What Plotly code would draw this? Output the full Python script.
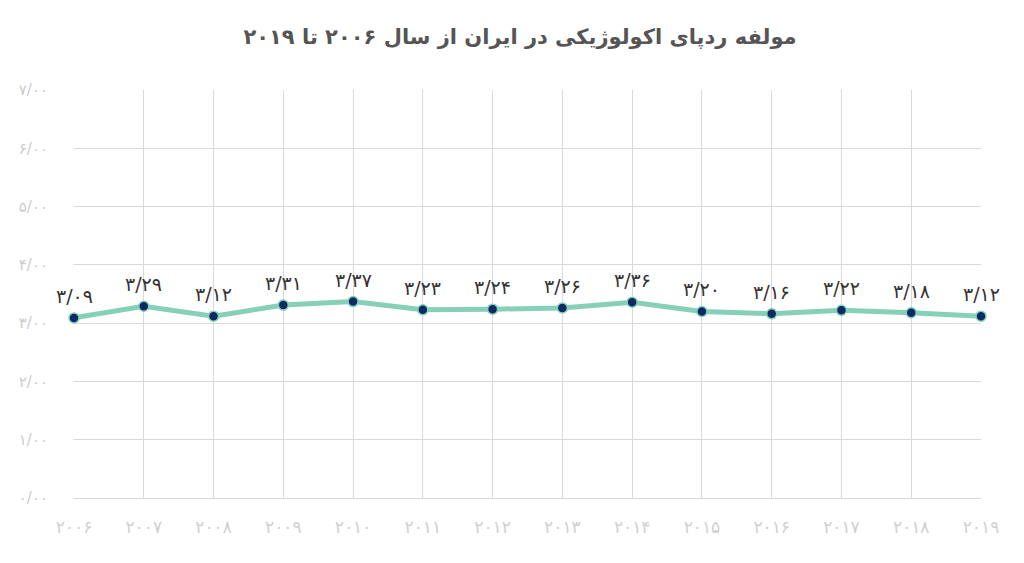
import plotly.graph_objects as go

FA_DIGITS = str.maketrans("0123456789.", "۰۱۲۳۴۵۶۷۸۹/")

years = ["2006", "2007", "2008", "2009", "2010", "2011", "2012",
         "2013", "2014", "2015", "2016", "2017", "2018", "2019"]
values = [3.09, 3.29, 3.12, 3.31, 3.37, 3.23, 3.24,
          3.26, 3.36, 3.20, 3.16, 3.22, 3.18, 3.12]
y_ticks = [0, 1, 2, 3, 4, 5, 6, 7]

title = "مولفه ردپای اکولوژیکی در ایران از سال ۲۰۰۶ تا ۲۰۱۹"

fig = go.Figure(go.Scatter(
    x=years,
    y=values,
    mode="lines+markers",
    line=dict(color="#86d0b8", width=5),
    marker=dict(size=10, color="#0b2a66", line=dict(color="#86d0b8", width=1.5)),
    cliponaxis=False,
))

# value labels sit a bit higher above the markers than plotly's text does
# (category axis: annotations take the category index)
for i, v in enumerate(values):
    fig.add_annotation(
        x=i, y=v, text=f"{v:.2f}".translate(FA_DIGITS),
        showarrow=False, yanchor="bottom", yshift=9,
        font=dict(family="DejaVu Sans", size=19, color="#333333"),
    )

# page body has an 8px offset, margins account for it
fig.update_layout(
    title={"text": f"<b>{title}</b>", "x": 0.5, "xanchor": "center",
           "y": 1 - 29 / 563, "yanchor": "middle",
           "font": dict(family="DejaVu Sans", size=21, color="#555555")},
    width=1024,
    height=563,
    margin=dict(l=66, r=51, t=82, b=73),
    plot_bgcolor="white",
    paper_bgcolor="white",
    showlegend=False,
)
fig.update_xaxes(
    type="category",
    tickvals=years,
    ticktext=[y.translate(FA_DIGITS) for y in years],
    tickfont=dict(family="DejaVu Sans", size=17, color="#d0d0d0"),
    showgrid=True, gridcolor="#d9d9d9", gridwidth=1,
    showline=True, linecolor="#d9d9d9",
    range=[0, len(years) - 1],
    ticks="", ticklen=0,
    ticklabelstandoff=14,
    zeroline=False,
)
fig.update_yaxes(
    range=[0, 7],
    tickvals=y_ticks,
    ticktext=[f"{t:.2f}".translate(FA_DIGITS) for t in y_ticks],
    tickfont=dict(family="DejaVu Sans", size=15, color="#cccccc"),
    showgrid=True, gridcolor="#d9d9d9", gridwidth=1,
    zeroline=False,
    ticklabelstandoff=25,
)

fig.write_html("out.html")
